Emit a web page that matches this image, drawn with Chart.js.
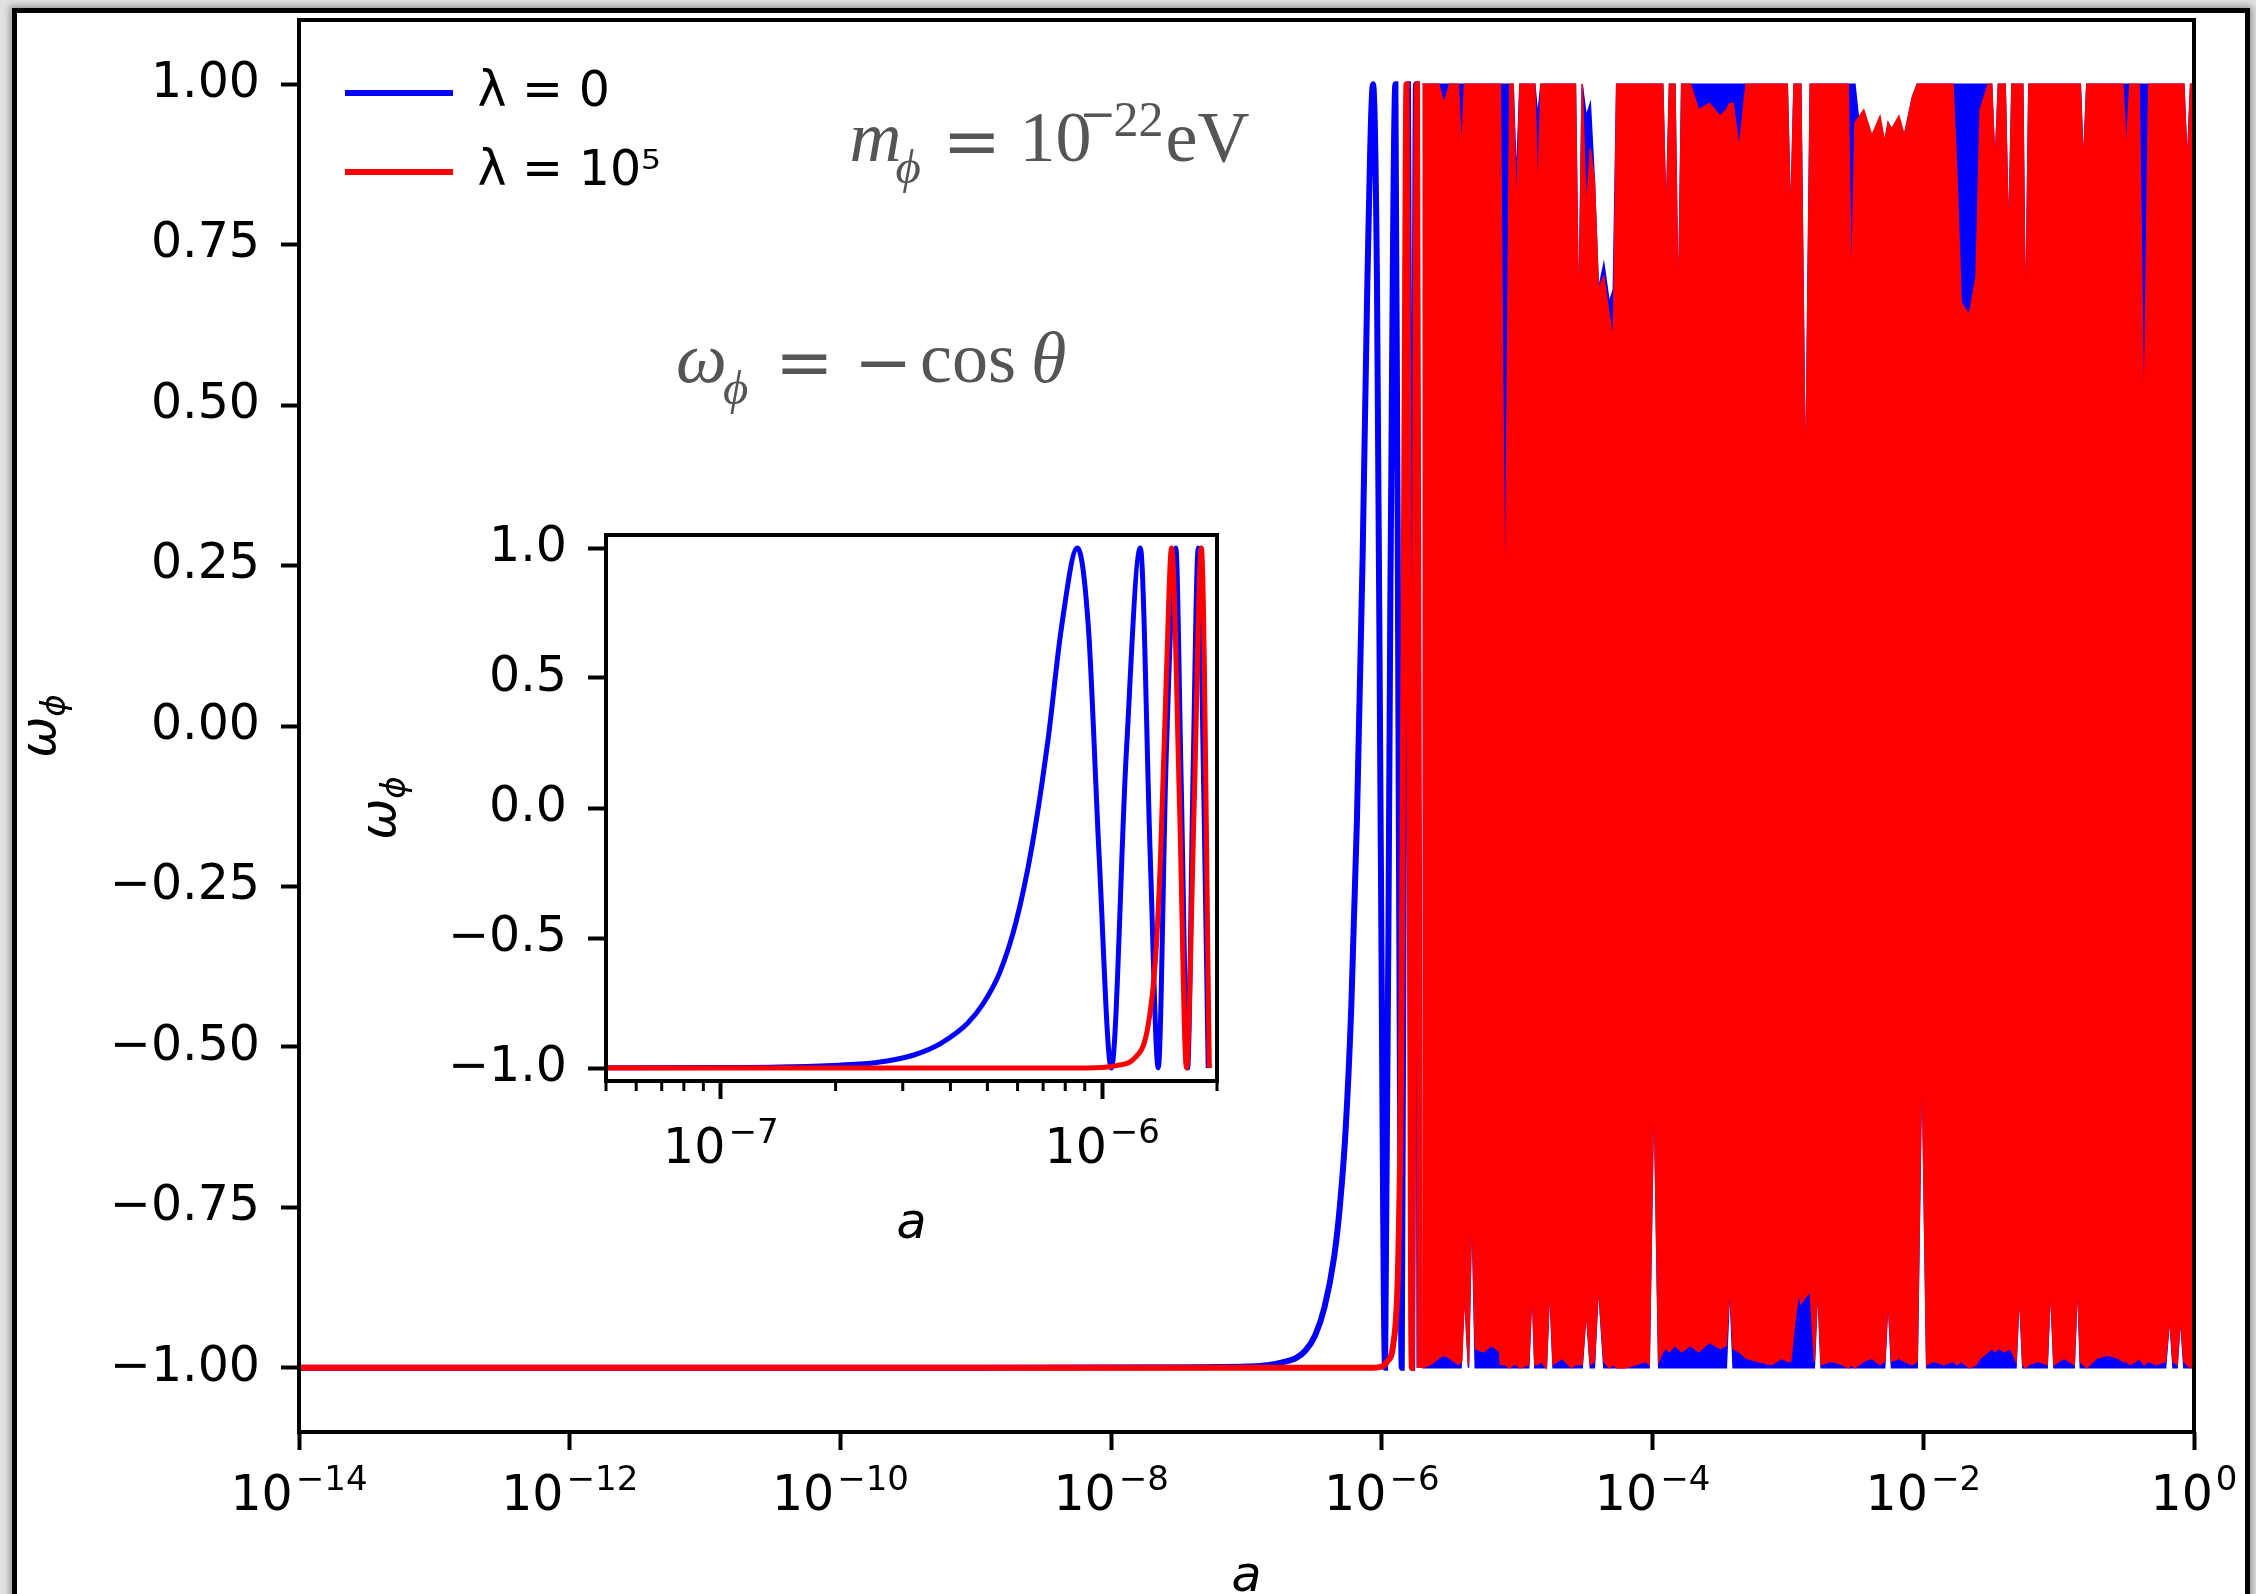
<!DOCTYPE html>
<html>
<head>
<meta charset="utf-8">
<title>w_phi against a</title>
<script src="https://cdn.jsdelivr.net/npm/chart.js@4.4.1/dist/chart.umd.min.js"></script>
<style>
  html, body { margin: 0; padding: 0; width: 2256px; height: 1594px; overflow: hidden; background: #e1e1e1; }
  #frame { position: absolute; left: 12px; top: 8px; width: 2228px; height: 1700px; border: 5px solid #000; background: #fff; box-shadow: 0 0 7px 2px rgba(0,0,0,0.35); }
  #main { position: absolute; left: 0; top: 0; }
  #inset { position: absolute; left: 340px; top: 500px; }
</style>
</head>
<body>
<div id="frame"></div>
<canvas id="main" width="2256" height="1594"></canvas>
<canvas id="inset" width="920" height="780"></canvas>
<script>
// all x values below are log10(a)
const seriesLabels = ['λ = 0', 'λ = 10⁵'];

// lambda = 0, resolved part (the inset shows it)
const blueLogA = [-14, -9, -7.3, -7.0, -6.846, -6.705, -6.635, -6.564, -6.494, -6.423,
  -6.353, -6.311, -6.269, -6.226, -6.184, -6.142, -6.107, -6.065, -6.036, -6.008,
  -5.976, -5.937, -5.900, -5.874, -5.853, -5.832, -5.807, -5.793, -5.776, -5.762,
  -5.748, -5.733, -5.722];
const blueW = [-1, -1, -0.999, -0.998, -0.996, -0.99, -0.985, -0.973, -0.95, -0.905,
  -0.828, -0.75, -0.634, -0.439, -0.146, 0.263, 0.692, 1.0, 0.69, -0.185,
  -1.0, 0.205, 1.0, -0.185, -1.0, 0.205, 1.0, 0.107, -1.0, 0.107,
  1.0, 0.01, -1.0];

// lambda = 1e5, resolved part
const redLogA = [-14, -7, -6.1, -6.0, -5.96, -5.917, -5.881, -5.860, -5.847, -5.832,
  -5.818, -5.797, -5.779, -5.759, -5.740, -5.719];
const redW = [-1, -1, -1, -0.998, -0.99, -0.965, -0.848, -0.575, -0.185, 0.497,
  1.0, 0.0, -1.0, 0.0, 1.0, -1.0];

// fast oscillation after a ~ 2e-6: upper and lower reach of the curve
const redBandLogA = [-5.70, -5.64, -5.58, -5.54, -5.50, -5.435, -5.41, -5.39, -5.36, -5.335,
  -5.31, -5.25, -5.19, -5.13, -5.125, -5.09, -5.055, -5.03, -5.006, -4.98,
  -4.915, -4.89, -4.87, -4.848, -4.825, -4.785, -4.76, -4.735, -4.67, -4.60,
  -4.57, -4.546, -4.52, -4.49, -4.46, -4.43, -4.40, -4.36, -4.32, -4.29,
  -4.265, -4.20, -4.12, -4.05, -4.025, -3.99, -3.955, -3.925, -3.90, -3.875,
  -3.835, -3.81, -3.785, -3.72, -3.66, -3.58, -3.50, -3.455, -3.43, -3.405,
  -3.36, -3.31, -3.22, -3.12, -3.04, -3.005, -2.98, -2.955, -2.92, -2.905,
  -2.87, -2.835, -2.805, -2.78, -2.755, -2.68, -2.60, -2.555, -2.53, -2.505,
  -2.44, -2.38, -2.32, -2.285, -2.26, -2.235, -2.18, -2.14, -2.08, -2.045,
  -2.01, -1.975, -1.92, -1.85, -1.78, -1.75, -1.72, -1.66, -1.61, -1.58,
  -1.52, -1.495, -1.47, -1.445, -1.395, -1.37, -1.345, -1.315, -1.29, -1.265,
  -1.245, -1.22, -1.15, -1.085, -1.06, -1.035, -0.96, -0.885, -0.86, -0.84,
  -0.817, -0.792, -0.72, -0.64, -0.56, -0.525, -0.50, -0.475, -0.43, -0.405,
  -0.37, -0.335, -0.28, -0.21, -0.18, -0.155, -0.125, -0.10, -0.075, -0.05,
  -0.025, 0];
const redBandTop = [1.00, 1.00, 1.00, 0.97, 1.00, 1.00, 0.89, 1.00, 1.00, 1.00,
  1.00, 1.00, 1.00, 1.00, 1.00, 0.12, 1.00, 1.00, 0.79, 1.00,
  1.00, 1.00, 1.00, 0.82, 1.00, 1.00, 1.00, 1.00, 1.00, 1.00,
  1.00, 0.61, 1.00, 0.80, 0.90, 0.85, 0.68, 0.70, 0.64, 0.60,
  1.00, 1.00, 1.00, 1.00, 1.00, 1.00, 1.00, 1.00, 0.78, 1.00,
  1.00, 0.63, 1.00, 1.00, 0.96, 0.97, 0.95, 0.96, 0.97, 0.97,
  0.90, 1.00, 1.00, 1.00, 1.00, 1.00, 0.78, 1.00, 1.00, 1.00,
  0.35, 1.00, 1.00, 1.00, 1.00, 1.00, 1.00, 1.00, 0.66, 0.94,
  0.96, 0.92, 0.95, 0.91, 0.94, 0.93, 0.95, 0.92, 0.98, 1.00,
  1.00, 1.00, 1.00, 1.00, 1.00, 0.85, 0.66, 0.64, 0.70, 0.96,
  1.00, 1.00, 0.87, 1.00, 1.00, 0.75, 1.00, 1.00, 1.00, 1.00,
  0.60, 1.00, 1.00, 1.00, 1.00, 1.00, 1.00, 1.00, 1.00, 1.00,
  0.87, 1.00, 1.00, 1.00, 1.00, 1.00, 0.89, 1.00, 1.00, 1.00,
  0.45, 1.00, 1.00, 1.00, 1.00, 1.00, 1.00, 1.00, 1.00, 0.87,
  1.00, 1.00];
const redBandBottom = [-1.00, -0.995, -0.985, -0.98, -0.985, -0.995, -0.99, -0.88, -0.995, -0.74,
  -0.97, -0.975, -0.965, -0.975, -0.995, -0.995, -1.00, -0.995, -0.995, -1.00,
  -0.995, -0.87, -0.995, -0.995, -0.99, -1.00, -0.87, -0.995, -0.985, -1.00,
  -0.995, -0.995, -0.995, -0.91, -0.995, -0.99, -0.87, -0.99, -1.00, -0.995,
  -1.00, -1.00, -0.995, -0.99, -0.995, -0.55, -0.99, -0.975, -0.97, -0.975,
  -0.965, -0.97, -0.975, -0.965, -0.975, -0.96, -0.97, -0.965, -0.87, -0.97,
  -0.975, -0.985, -0.99, -0.995, -0.985, -0.99, -0.99, -0.94, -0.88, -0.90,
  -0.89, -0.88, -0.99, -0.87, -0.995, -0.99, -0.995, -1.00, -0.995, -1.00,
  -0.99, -0.985, -0.995, -0.99, -0.89, -0.99, -0.985, -0.99, -0.995, -0.99,
  -0.50, -0.995, -0.99, -0.995, -0.99, -0.995, -0.99, -1.00, -0.995, -0.985,
  -0.975, -0.97, -0.975, -0.97, -0.975, -0.97, -0.975, -0.99, -0.88, -0.995,
  -1.00, -0.995, -0.99, -0.995, -0.87, -0.995, -0.985, -0.995, -0.86, -0.99,
  -0.995, -1.00, -0.985, -0.98, -0.985, -0.99, -0.99, -0.995, -0.99, -0.985,
  -0.995, -0.99, -0.995, -0.99, -0.92, -0.99, -0.995, -0.92, -0.99, -0.995,
  -1.00, -0.99];

const blueBandLogA = [-5.70, -5.415, -5.39, -5.36, -5.335, -5.31, -5.03, -5.006, -4.98, -4.915,
  -4.89, -4.87, -4.848, -4.825, -4.785, -4.76, -4.735, -4.57, -4.546, -4.52,
  -4.49, -4.46, -4.43, -4.40, -4.36, -4.32, -4.29, -4.265, -4.025, -3.99,
  -3.955, -3.925, -3.90, -3.875, -3.835, -3.81, -3.785, -3.455, -3.43, -3.405,
  -3.005, -2.98, -2.955, -2.905, -2.87, -2.835, -2.805, -2.78, -2.755, -2.505,
  -2.48, -2.38, -2.285, -2.26, -2.235, -2.14, -2.08, -2.045, -2.01, -1.975,
  -1.495, -1.47, -1.445, -1.395, -1.37, -1.345, -1.315, -1.29, -1.265, -1.245,
  -1.22, -1.085, -1.06, -1.035, -0.885, -0.86, -0.84, -0.817, -0.792, -0.21,
  -0.18, -0.155, -0.125, -0.10, -0.075, -0.05, -0.025, 0];
const blueBandTop = [1.00, 1.00, 1.00, 1.00, 1.00, 1.00, 1.00, 0.85, 1.00, 1.00,
  1.00, 1.00, 0.95, 1.00, 1.00, 1.00, 1.00, 1.00, 0.61, 1.00,
  0.95, 0.97, 0.85, 0.68, 0.72, 0.66, 0.68, 1.00, 1.00, 1.00,
  1.00, 1.00, 0.78, 1.00, 1.00, 0.63, 1.00, 1.00, 1.00, 1.00,
  1.00, 0.78, 1.00, 1.00, 0.35, 1.00, 1.00, 1.00, 1.00, 1.00,
  0.95, 0.92, 0.91, 0.94, 0.93, 0.92, 0.98, 1.00, 1.00, 1.00,
  1.00, 0.87, 1.00, 1.00, 0.75, 1.00, 1.00, 1.00, 1.00, 0.60,
  1.00, 1.00, 1.00, 1.00, 1.00, 1.00, 1.00, 0.87, 1.00, 1.00,
  1.00, 1.00, 1.00, 1.00, 1.00, 0.87, 1.00, 1.00];
const blueBandBottom = [-1.00, -1.00, -0.88, -1.00, -0.74, -1.00, -1.00, -1.00, -1.00, -1.00,
  -0.87, -1.00, -1.00, -1.00, -1.00, -0.87, -1.00, -1.00, -1.00, -1.00,
  -0.91, -1.00, -1.00, -0.87, -1.00, -1.00, -1.00, -1.00, -1.00, -0.55,
  -1.00, -1.00, -1.00, -1.00, -1.00, -1.00, -1.00, -1.00, -0.87, -1.00,
  -1.00, -1.00, -1.00, -1.00, -1.00, -1.00, -1.00, -0.87, -1.00, -1.00,
  -1.00, -1.00, -1.00, -0.89, -1.00, -1.00, -1.00, -1.00, -0.50, -1.00,
  -1.00, -1.00, -1.00, -1.00, -1.00, -1.00, -1.00, -0.88, -1.00, -1.00,
  -1.00, -1.00, -0.87, -1.00, -1.00, -0.86, -1.00, -1.00, -1.00, -1.00,
  -0.92, -1.00, -1.00, -0.92, -1.00, -1.00, -1.00, -1.00];

// ticks
const mainXTicks = [-14, -12, -10, -8, -6, -4, -2, 0];
const mainYTicks = [-1, -0.75, -0.5, -0.25, 0, 0.25, 0.5, 0.75, 1];
const insetXTicks = [-7, -6];
const insetMinorTicks = [5e-8, 6e-8, 7e-8, 8e-8, 9e-8, 2e-7, 3e-7, 4e-7, 5e-7, 6e-7, 7e-7, 8e-7, 9e-7, 2e-6];
const insetYTicks = [-1, -0.5, 0, 0.5, 1];

// text notes in the plot, anchored at (a, w); pieces are [dx, dy, text, font]
const noteFonts = {
  rm: '72px "Liberation Serif", "DejaVu Serif", serif',
  it: 'italic 72px "Liberation Serif", "DejaVu Serif", serif',
  sub: 'italic 49px "Liberation Serif", "DejaVu Serif", serif',
  sup: '50px "Liberation Serif", "DejaVu Serif", serif',
  op: '70px "DejaVu Serif", serif',
  opS: '44px "DejaVu Serif", serif'
};
const notes = [
  {a: 1e-10, w: 0.88, pieces: [[9, 0, 'm', 'it'], [55, 22, 'ϕ', 'sub'], [102, 4, '=', 'op'],
    [179, 0, '10', 'rm'], [239, -32, '−', 'opS'], [273, -25, '22', 'sup'], [325, 0, 'eV', 'rm']]},
  {a: 6e-12, w: 0.536, pieces: [[1, 0, 'ω', 'it'], [48, 22, 'ϕ', 'sub'], [100, 4, '=', 'op'],
    [179, 4, '−', 'op'], [245, 0, 'cos', 'rm'], [356, 0, 'θ', 'it']]}
];

Chart.defaults.font.family = '"DejaVu Sans", sans-serif';
Chart.defaults.color = '#000';

const decimals = d => v => v.toFixed(d).replace('-', '\u2212');
const pts = (lx, ys) => lx.map((e, i) => ({x: Math.pow(10, e), y: ys[i]}));

const FONT = 49;
const grid = () => ({display: true, drawOnChartArea: false, drawTicks: true, tickLength: 18, tickWidth: 4, tickColor: '#000'});

// spines on all four sides
const frame = {
  id: 'frame',
  afterDraw(chart) {
    const {ctx, chartArea: a} = chart;
    ctx.save();
    ctx.strokeStyle = '#000';
    ctx.lineWidth = 4;
    ctx.strokeRect(a.left, a.top, a.right - a.left, a.bottom - a.top);
    ctx.restore();
  }
};

// "10" with a raised exponent under each log tick
const powLabels = {
  id: 'powLabels',
  afterDraw(chart, args, opts) {
    const {ctx, chartArea: a, scales: {x}} = chart;
    ctx.save();
    ctx.fillStyle = '#000';
    ctx.textBaseline = 'alphabetic';
    ctx.textAlign = 'left';
    x.ticks.forEach(t => {
      const sup = String(Math.round(Math.log10(t.value))).replace('-', '\u2212');
      ctx.font = FONT + 'px "DejaVu Sans"';
      const wb = ctx.measureText('10').width;
      ctx.font = '34px "DejaVu Sans"';
      const ws = ctx.measureText(sup).width;
      const left = x.getPixelForValue(t.value) - (wb + 3 + ws) / 2;
      const y0 = a.bottom + opts.drop;
      ctx.font = FONT + 'px "DejaVu Sans"';
      ctx.fillText('10', left, y0);
      ctx.font = '34px "DejaVu Sans"';
      ctx.fillText(sup, left + wb + 3, y0 - 20);
    });
    ctx.restore();
  }
};

// rotated "omega_phi" axis label with a real subscript
const yTitle = {
  id: 'yTitle',
  afterDraw(chart, args, opts) {
    const {ctx, chartArea: a} = chart;
    ctx.save();
    ctx.fillStyle = '#000';
    ctx.textBaseline = 'alphabetic';
    ctx.textAlign = 'left';
    ctx.translate(opts.x, (a.top + a.bottom) / 2);
    ctx.rotate(-Math.PI / 2);
    ctx.font = 'italic ' + FONT + 'px "DejaVu Sans"';
    const w1 = ctx.measureText('ω').width;
    ctx.font = 'italic 34px "DejaVu Sans"';
    const w2 = ctx.measureText('ϕ').width;
    const s = -(w1 + w2) / 2;
    ctx.font = 'italic ' + FONT + 'px "DejaVu Sans"';
    ctx.fillText('ω', s, 0);
    ctx.font = 'italic 34px "DejaVu Sans"';
    ctx.fillText('ϕ', s + w1, 10);
    ctx.restore();
  }
};

const minorTicks = {
  id: 'minorTicks',
  afterDraw(chart) {
    const {ctx, chartArea: a, scales: {x}} = chart;
    ctx.save();
    ctx.strokeStyle = '#000';
    ctx.lineWidth = 3;
    ctx.beginPath();
    insetMinorTicks.forEach(v => {
      const px = x.getPixelForValue(v);
      ctx.moveTo(px, a.bottom);
      ctx.lineTo(px, a.bottom + 10);
    });
    ctx.stroke();
    ctx.restore();
  }
};

const annotate = {
  id: 'annotate',
  afterDraw(chart) {
    const {ctx, scales: {x, y}} = chart;
    ctx.save();
    ctx.fillStyle = '#555';
    ctx.textBaseline = 'alphabetic';
    ctx.textAlign = 'left';
    notes.forEach(n => {
      const x0 = x.getPixelForValue(n.a), y0 = y.getPixelForValue(n.w);
      n.pieces.forEach(([dx, dy, txt, f]) => {
        ctx.font = noteFonts[f];
        ctx.fillText(txt, x0 + dx, y0 + dy);
      });
    });
    ctx.restore();
  }
};

// put the legend block where matplotlib has it
const legendNudge = {
  id: 'legendNudge',
  afterLayout(chart) {
    if (chart.legend) {
      chart.legend.left += 16;
      chart.legend.top += 38.5;
    }
  }
};

const curve = (label, lx, ys, color, width, order) => ({
  label: label, inLegend: true, data: pts(lx, ys), borderColor: color, backgroundColor: color,
  borderWidth: width, pointRadius: 0, cubicInterpolationMode: 'monotone', fill: false, order: order
});
const band = (label, lx, ys, color, fill, order) => ({
  label: label, inLegend: false, data: pts(lx, ys), borderColor: color, backgroundColor: color,
  borderWidth: 1.5, pointRadius: 0, tension: 0, fill: fill, order: order
});

new Chart(document.getElementById('main'), {
  type: 'line',
  data: {
    datasets: [
      curve(seriesLabels[0], blueLogA, blueW, '#0000ff', 6, 3),
      curve(seriesLabels[1], redLogA, redW, '#ff0000', 6, 1),
      band('blue top', blueBandLogA, blueBandTop, '#0000ff', '+1', 4),
      band('blue bottom', blueBandLogA, blueBandBottom, '#0000ff', false, 4),
      band('red top', redBandLogA, redBandTop, '#ff0000', '+1', 2),
      band('red bottom', redBandLogA, redBandBottom, '#ff0000', false, 2)
    ]
  },
  options: {
    responsive: false,
    animation: false,
    events: [],
    layout: {padding: {left: 0, top: 20, right: 62, bottom: 0}},
    scales: {
      x: {
        type: 'logarithmic', min: 1e-14, max: 1,
        afterBuildTicks: s => { s.ticks = mainXTicks.map(e => ({value: Math.pow(10, e)})); },
        afterFit: s => { s.height = 162; s.paddingLeft = 0; s.paddingRight = 0; },
        ticks: {display: false},
        grid: grid(),
        border: {display: false},
        title: {display: true, text: 'a', color: '#000', font: {size: FONT, style: 'italic', lineHeight: 0.6}, padding: {top: 0, bottom: 1.3}}
      },
      y: {
        min: -1.1, max: 1.1,
        afterBuildTicks: s => { s.ticks = mainYTicks.map(v => ({value: v})); },
        afterFit: s => { s.width = 299; s.paddingTop = 0; s.paddingBottom = 0; },
        ticks: {callback: decimals(2), font: {size: FONT}, color: '#000', padding: 21},
        grid: grid(),
        border: {display: false},
        title: {display: false}
      }
    },
    plugins: {
      tooltip: {enabled: false},
      powLabels: {drop: 78},
      yTitle: {x: 55},
      legend: {
        position: 'chartArea',
        align: 'start',
        labels: {
          filter: (item, data) => data.datasets[item.datasetIndex].inLegend,
          sort: (a, b) => a.datasetIndex - b.datasetIndex,
          usePointStyle: true,
          pointStyle: 'line',
          pointStyleWidth: 108,
          font: {size: FONT, lineHeight: 1},
          color: '#000',
          padding: 30
        }
      }
    }
  },
  plugins: [frame, powLabels, yTitle, annotate, legendNudge]
});

new Chart(document.getElementById('inset'), {
  type: 'line',
  data: {
    datasets: [
      curve(seriesLabels[0], blueLogA, blueW, '#0000ff', 5, 2),
      curve(seriesLabels[1], redLogA, redW, '#ff0000', 5, 1)
    ]
  },
  options: {
    responsive: false,
    animation: false,
    events: [],
    layout: {padding: {left: 0, top: 35, right: 43, bottom: 0}},
    scales: {
      x: {
        type: 'logarithmic', min: 5e-8, max: 2e-6,
        afterBuildTicks: s => { s.ticks = insetXTicks.map(e => ({value: Math.pow(10, e)})); },
        afterFit: s => { s.height = 199; s.paddingLeft = 0; s.paddingRight = 0; },
        ticks: {display: false},
        grid: grid(),
        border: {display: false},
        title: {display: true, text: 'a', color: '#000', font: {size: FONT, style: 'italic', lineHeight: 1}, padding: {top: 0, bottom: 30.5}}
      },
      y: {
        min: -1.05, max: 1.05,
        afterBuildTicks: s => { s.ticks = insetYTicks.map(v => ({value: v})); },
        afterFit: s => { s.width = 266; s.paddingTop = 0; s.paddingBottom = 0; },
        ticks: {callback: decimals(1), font: {size: FONT}, color: '#000', padding: 21},
        grid: grid(),
        border: {display: false},
        title: {display: false}
      }
    },
    plugins: {legend: {display: false}, tooltip: {enabled: false}, powLabels: {drop: 82}, yTitle: {x: 55}}
  },
  plugins: [frame, powLabels, yTitle, minorTicks]
});
</script>
</body>
</html>
